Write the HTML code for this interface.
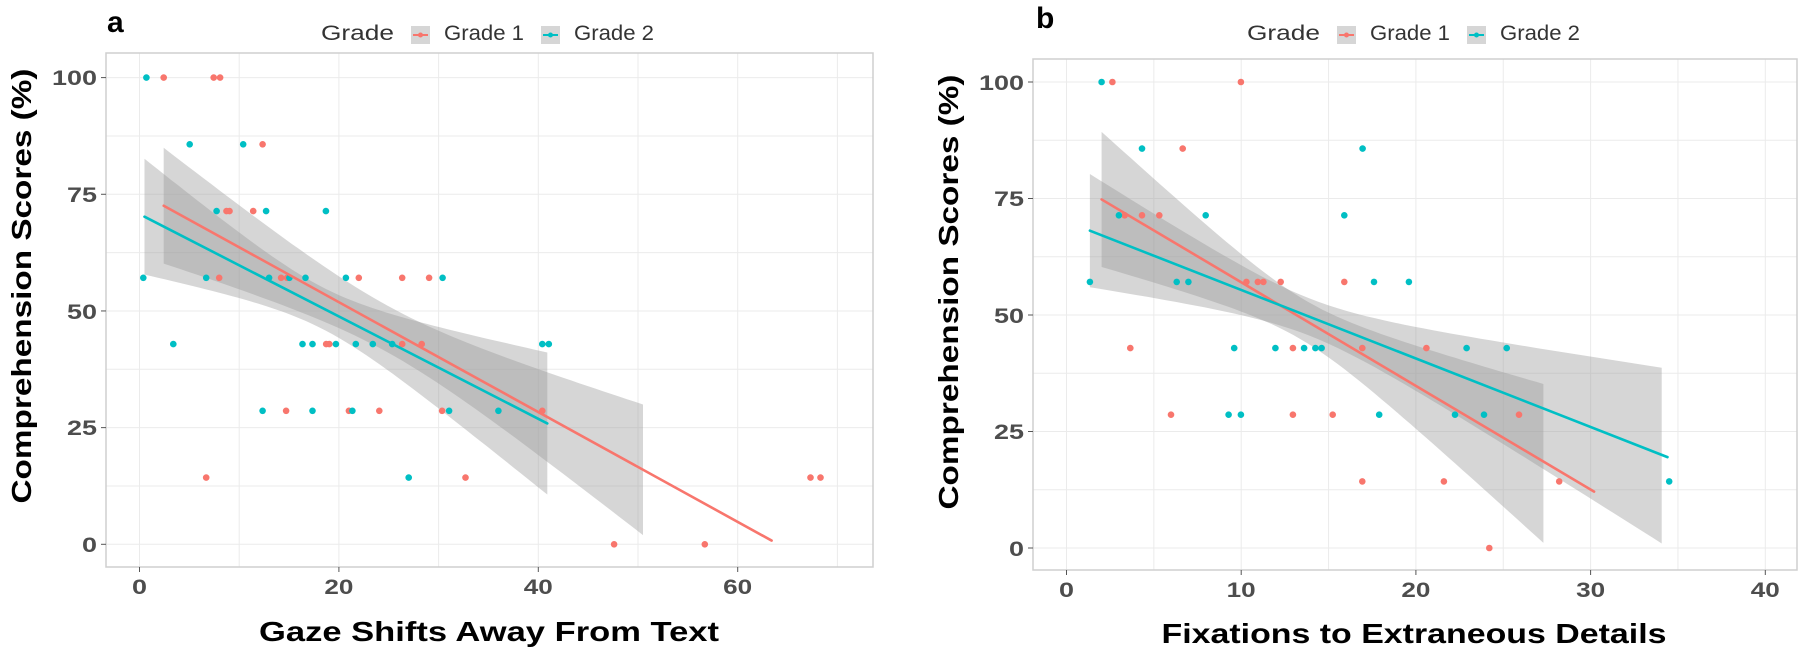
<!DOCTYPE html>
<html><head><meta charset="utf-8"><style>
html,body{margin:0;padding:0;background:#fff;}
svg{display:block;}
.tk{font-family:"Liberation Sans",sans-serif;font-weight:bold;font-size:21px;fill:#4d4d4d;}
.tt{font-family:"Liberation Sans",sans-serif;font-weight:bold;font-size:28px;fill:#000;}
.lg{font-family:"Liberation Sans",sans-serif;font-size:21px;fill:#333;}
.pl{font-family:"Liberation Sans",sans-serif;font-weight:bold;font-size:30px;fill:#000;}
</style></head><body>
<svg id="s" width="1800" height="654" viewBox="0 0 1800 654" xmlns="http://www.w3.org/2000/svg">
<rect width="1800" height="654" fill="#fff"/>
<g id="grid" stroke="#ebebeb" stroke-width="1"></g>
<g id="rib"></g>
<g id="pts"></g>
<g id="lines" fill="none" stroke-linecap="round"></g>
<rect x="106" y="53" width="767" height="514" fill="none" stroke="#cfcfcf" stroke-width="1.5"/>
<rect x="1033" y="59" width="764" height="511" fill="none" stroke="#cfcfcf" stroke-width="1.5"/>
<g id="ticks" stroke="#555" stroke-width="1"></g>

<!-- panel a labels -->
<text class="pl" x="107" y="32">a</text>
<text class="lg" x="321" y="40" textLength="73" lengthAdjust="spacingAndGlyphs">Grade</text>
<rect x="411" y="26" width="19" height="18" fill="#d6d6d6"/>
<line x1="413" y1="35" x2="428" y2="35" stroke="#F8766D" stroke-width="2"/><circle cx="420.5" cy="35" r="2.5" fill="#F8766D"/>
<text class="lg" x="444" y="40" textLength="80" lengthAdjust="spacingAndGlyphs">Grade 1</text>
<rect x="541" y="26" width="19" height="18" fill="#d6d6d6"/>
<line x1="543" y1="35" x2="558" y2="35" stroke="#00BFC4" stroke-width="2"/><circle cx="550.5" cy="35" r="2.5" fill="#00BFC4"/>
<text class="lg" x="574" y="40" textLength="80" lengthAdjust="spacingAndGlyphs">Grade 2</text>

<text class="tk" text-anchor="end" x="97" y="85" textLength="45" lengthAdjust="spacingAndGlyphs">100</text>
<text class="tk" text-anchor="end" x="97" y="202" textLength="30" lengthAdjust="spacingAndGlyphs">75</text>
<text class="tk" text-anchor="end" x="97" y="319" textLength="30" lengthAdjust="spacingAndGlyphs">50</text>
<text class="tk" text-anchor="end" x="97" y="435" textLength="30" lengthAdjust="spacingAndGlyphs">25</text>
<text class="tk" text-anchor="end" x="97" y="552" textLength="15" lengthAdjust="spacingAndGlyphs">0</text>
<text class="tk" text-anchor="middle" x="139.5" y="594" textLength="15" lengthAdjust="spacingAndGlyphs">0</text>
<text class="tk" text-anchor="middle" x="338.9" y="594" textLength="29" lengthAdjust="spacingAndGlyphs">20</text>
<text class="tk" text-anchor="middle" x="538.3" y="594" textLength="29" lengthAdjust="spacingAndGlyphs">40</text>
<text class="tk" text-anchor="middle" x="737.7" y="594" textLength="29" lengthAdjust="spacingAndGlyphs">60</text>
<text class="tt" text-anchor="middle" x="489" y="641" textLength="460" lengthAdjust="spacingAndGlyphs">Gaze Shifts Away From Text</text>
<text class="tt" text-anchor="middle" transform="translate(31,286) rotate(-90)" textLength="435" lengthAdjust="spacingAndGlyphs">Comprehension Scores (%)</text>

<!-- panel b labels -->
<text class="pl" x="1036" y="28">b</text>
<text class="lg" x="1247" y="40" textLength="73" lengthAdjust="spacingAndGlyphs">Grade</text>
<rect x="1337" y="26" width="19" height="18" fill="#d6d6d6"/>
<line x1="1339" y1="35" x2="1354" y2="35" stroke="#F8766D" stroke-width="2"/><circle cx="1346.5" cy="35" r="2.5" fill="#F8766D"/>
<text class="lg" x="1370" y="40" textLength="80" lengthAdjust="spacingAndGlyphs">Grade 1</text>
<rect x="1467" y="26" width="19" height="18" fill="#d6d6d6"/>
<line x1="1469" y1="35" x2="1484" y2="35" stroke="#00BFC4" stroke-width="2"/><circle cx="1476.5" cy="35" r="2.5" fill="#00BFC4"/>
<text class="lg" x="1500" y="40" textLength="80" lengthAdjust="spacingAndGlyphs">Grade 2</text>

<text class="tk" text-anchor="end" x="1024" y="90" textLength="45" lengthAdjust="spacingAndGlyphs">100</text>
<text class="tk" text-anchor="end" x="1024" y="206" textLength="30" lengthAdjust="spacingAndGlyphs">75</text>
<text class="tk" text-anchor="end" x="1024" y="323" textLength="30" lengthAdjust="spacingAndGlyphs">50</text>
<text class="tk" text-anchor="end" x="1024" y="439" textLength="30" lengthAdjust="spacingAndGlyphs">25</text>
<text class="tk" text-anchor="end" x="1024" y="556" textLength="15" lengthAdjust="spacingAndGlyphs">0</text>
<text class="tk" text-anchor="middle" x="1066.5" y="597" textLength="15" lengthAdjust="spacingAndGlyphs">0</text>
<text class="tk" text-anchor="middle" x="1241.2" y="597" textLength="29" lengthAdjust="spacingAndGlyphs">10</text>
<text class="tk" text-anchor="middle" x="1415.9" y="597" textLength="29" lengthAdjust="spacingAndGlyphs">20</text>
<text class="tk" text-anchor="middle" x="1590.6" y="597" textLength="29" lengthAdjust="spacingAndGlyphs">30</text>
<text class="tk" text-anchor="middle" x="1765.3" y="597" textLength="29" lengthAdjust="spacingAndGlyphs">40</text>
<text class="tt" text-anchor="middle" x="1414" y="643" textLength="505" lengthAdjust="spacingAndGlyphs">Fixations to Extraneous Details</text>
<text class="tt" text-anchor="middle" transform="translate(958,292) rotate(-90)" textLength="435" lengthAdjust="spacingAndGlyphs">Comprehension Scores (%)</text>
</svg>
<script>
(function(){
var NS="http://www.w3.org/2000/svg";
function el(p,n,a){var e=document.createElementNS(NS,n);for(var k in a)e.setAttribute(k,a[k]);document.getElementById(p).appendChild(e);return e;}
var R="#F8766D",B="#00BFC4";
var P=[
 {X:function(x){return 139.5+9.97*x},Y:function(y){return 544.3-4.667*y},x0:106,x1:873,y0:53,y1:567,
  gx:[0,10,20,30,40,50,60,70],gy:[0,12.5,25,37.5,50,62.5,75,87.5,100],mx:[0,20,40,60],my:[0,25,50,75,100]},
 {X:function(x){return 1066.5+17.47*x},Y:function(y){return 548-4.66*y},x0:1033,x1:1797,y0:59,y1:570,
  gx:[0,5,10,15,20,25,30,35,40],gy:[0,12.5,25,37.5,50,62.5,75,87.5,100],mx:[0,10,20,30,40],my:[0,25,50,75,100]}
];
P.forEach(function(p){
 p.gx.forEach(function(v){var x=p.X(v);el("grid","line",{x1:x,x2:x,y1:p.y0,y2:p.y1});});
 p.gy.forEach(function(v){var y=p.Y(v);el("grid","line",{x1:p.x0,x2:p.x1,y1:y,y2:y});});
 p.mx.forEach(function(v){var x=p.X(v);el("ticks","line",{x1:x,x2:x,y1:p.y1,y2:p.y1+5});});
 p.my.forEach(function(v){var y=p.Y(v);el("ticks","line",{x1:p.x0-5,x2:p.x0,y1:y,y2:y});});
});
function ribbon(p,x0,x1,yA,slope,a,b,xm){
 var up=[],lo=[];
 for(var i=0;i<=60;i++){var x=x0+(x1-x0)*i/60,c=yA+slope*(x-x0),h=Math.sqrt(a+b*(x-xm)*(x-xm));
  up.push(p.X(x).toFixed(1)+","+p.Y(c+h).toFixed(1));lo.unshift(p.X(x).toFixed(1)+","+p.Y(c-h).toFixed(1));}
 el("rib","polygon",{points:up.concat(lo).join(" "),fill:"#999999","fill-opacity":"0.4"});
}
var a=P[0],b=P[1];
ribbon(a,2.43,50.5,72.55,-1.177,25,0.258,24.77);
ribbon(a,0.5,40.9,70.2,-1.097,20,0.418,18.4);
ribbon(b,2.01,27.3,74.8,-2.24,20,1.43,13.54);
ribbon(b,1.34,34.07,68.1,-1.475,16,0.834,13.9);
function pts(p,c,list){for(var i=0;i<list.length;i+=2)el("pts","circle",{cx:p.X(list[i]).toFixed(1),cy:p.Y(list[i+1]).toFixed(1),r:3.3,fill:c});}
pts(a,R,[2.43,100,7.44,100,8.08,100,12.35,85.7,8.73,71.4,9.03,71.4,11.4,71.4,7.99,57.1,14.2,57.1,14.8,57.1,22,57.1,26.35,57.1,29.05,57.1,
 18.73,42.9,19.04,42.9,26.35,42.9,28.3,42.9,14.7,28.6,21,28.6,24.05,28.6,30.35,28.6,40.4,28.6,6.69,14.3,32.7,14.3,67.3,14.3,68.3,14.3,47.6,0,56.7,0]);
pts(a,B,[0.69,100,5.04,85.7,10.4,85.7,7.73,71.4,12.7,71.4,18.7,71.4,0.38,57.1,6.69,57.1,13,57.1,15.04,57.1,16.65,57.1,20.7,57.1,30.4,57.1,
 3.39,42.9,16.35,42.9,17.35,42.9,19.7,42.9,21.7,42.9,23.4,42.9,25.35,42.9,40.4,42.9,41.05,42.9,12.35,28.6,17.35,28.6,21.35,28.6,31.05,28.6,36,28.6,27,14.3]);
pts(b,R,[2.63,100,9.98,100,6.65,85.7,3.33,71.4,4.32,71.4,5.31,71.4,10.3,57.1,10.95,57.1,11.27,57.1,12.26,57.1,15.9,57.1,
 3.65,42.9,12.96,42.9,16.93,42.9,20.6,42.9,5.98,28.6,12.96,28.6,15.24,28.6,25.9,28.6,16.93,14.3,21.6,14.3,28.2,14.3,24.2,0]);
pts(b,B,[2.01,100,4.32,85.7,16.95,85.7,3,71.4,7.97,71.4,15.9,71.4,1.34,57.1,6.31,57.1,6.98,57.1,17.6,57.1,19.6,57.1,
 9.6,42.9,11.96,42.9,13.6,42.9,14.25,42.9,14.6,42.9,22.9,42.9,25.2,42.9,9.28,28.6,9.98,28.6,17.9,28.6,22.24,28.6,23.9,28.6,34.5,14.3]);
function ln(p,c,x0,y0,x1,y1){el("lines","line",{x1:p.X(x0),y1:p.Y(y0),x2:p.X(x1),y2:p.Y(y1),stroke:c,"stroke-width":2.6});}
ln(a,R,2.43,72.55,63.4,0.8);
ln(a,B,0.5,70.2,40.9,25.9);
ln(b,R,2.01,74.8,30.2,12.1);
ln(b,B,1.34,68.1,34.4,19.5);
})();
</script>
</body></html>
